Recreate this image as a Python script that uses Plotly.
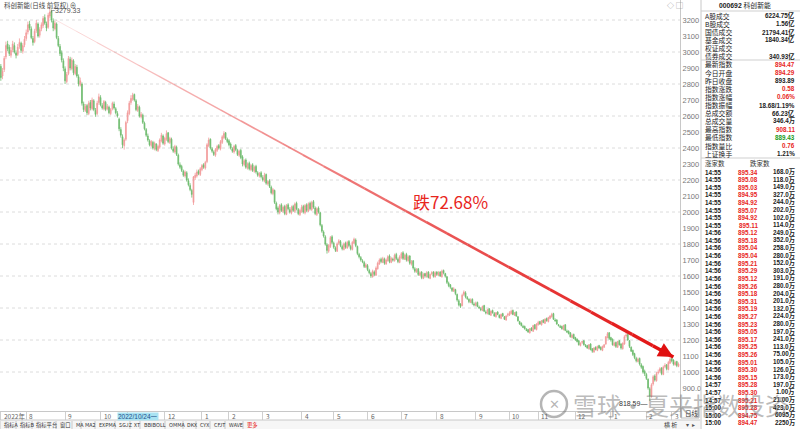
import plotly.graph_objects as go

# ---------------- data ----------------
title = "科创新能(日线 前复权)"

open_ = [
    2910, 2850, 2890, 2970, 3050, 3030, 2980, 3015, 3040, 2995, 2985, 3035, 3055, 3005, 3045,
    3085, 3125, 3175, 3145, 3085, 3065, 3135, 3175, 3105, 3145, 3165, 3215, 3175, 3155, 3225, 3255, 3195, 3145, 3175, 3085, 3035, 2995, 2945,
    2895, 2815, 2865, 2955, 2895, 2945, 2865, 2905, 2845, 2795, 2800, 2675, 2635, 2665, 2615, 2685, 2645, 2695, 2635, 2615, 2685,
    2715, 2665, 2645, 2685, 2645, 2655, 2615, 2645, 2675, 2645, 2615, 2580, 2515, 2470, 2415, 2455,
    2570, 2615, 2685, 2705, 2735, 2695, 2635, 2655, 2595, 2605, 2555, 2515, 2475, 2445, 2415, 2435, 2395, 2425, 2385, 2405, 2445, 2475,
    2425, 2455, 2495, 2435, 2455, 2395, 2375, 2405, 2355, 2295, 2285, 2255, 2225, 2245, 2195, 2165, 2135, 2060, 2215, 2225, 2255, 2235,
    2265, 2295, 2275, 2315, 2415, 2455, 2395, 2375, 2355, 2385, 2415, 2395, 2435, 2465, 2495, 2455,
    2445, 2425, 2395, 2375, 2415, 2385, 2355, 2385, 2345, 2295, 2325, 2275, 2305, 2265, 2295, 2255, 2285, 2245, 2225, 2245,
    2215, 2195, 2235, 2175, 2195, 2155, 2115, 2135, 2055, 2025, 1995, 2045, 2005, 2035, 1985, 2045, 2015, 1995, 2035, 2005, 2055, 2015, 1985,
    2005, 2035, 1995, 2045, 2005, 2055, 2015, 2065, 2025, 1985, 2025, 1995, 1915, 1875, 1845, 1795, 1755, 1785, 1845,
    1805, 1775, 1755, 1805, 1815, 1785, 1765, 1805, 1775, 1815, 1785, 1765, 1805, 1825, 1785, 1735, 1715, 1695, 1685, 1655,
    1665, 1635, 1615, 1595, 1625, 1605, 1645, 1675, 1705, 1685, 1705, 1675, 1695, 1725, 1685, 1705, 1695, 1735, 1705, 1685,
    1715, 1745, 1705, 1735, 1695, 1725, 1675, 1695, 1645, 1625, 1645, 1605, 1625, 1585, 1615, 1595, 1625, 1585, 1615, 1625, 1595,
    1625, 1605, 1625, 1595, 1635, 1615, 1595, 1555, 1545, 1525, 1505, 1515, 1485, 1445, 1425, 1415, 1485, 1495, 1465, 1455, 1435, 1455, 1425,
    1415, 1435, 1405, 1395, 1385, 1415, 1375, 1365, 1395, 1355, 1385, 1365, 1345, 1375, 1355, 1335, 1365, 1345, 1325, 1355,
    1355, 1365, 1385, 1355, 1375, 1345, 1315, 1305, 1285, 1285, 1265, 1265, 1245, 1275, 1255, 1295, 1265,
    1295, 1315, 1295, 1325, 1305, 1335, 1315, 1335, 1345, 1365, 1325, 1325, 1295, 1285, 1285, 1265, 1295, 1255, 1255, 1245, 1215, 1235,
    1215, 1205, 1195, 1165, 1185, 1195, 1165, 1165, 1145, 1175, 1145, 1125, 1155, 1135, 1165, 1155, 1135, 1155, 1175, 1215, 1245,
    1215, 1205, 1165, 1185, 1155, 1195, 1175, 1145, 1175, 1225, 1235, 1195, 1155, 1135, 1115, 1085, 1065, 1085, 1045, 1035, 1005,
    985, 955, 895, 845, 925, 975, 945, 995, 1005, 1025, 985, 1035, 1045, 1015, 1055,
    1085, 1075, 1045, 1065, 1035,
]
high = [
    2925, 2900, 2975, 3065, 3070, 3045, 3030, 3070, 3060, 3010, 3050, 3085, 3065, 3055, 3100,
    3140, 3190, 3195, 3160, 3100, 3145, 3200, 3185, 3155, 3185, 3225, 3235, 3190, 3245, 3279.33, 3265, 3210, 3195, 3185, 3100, 3050, 3010, 2960,
    2910, 2875, 2975, 2970, 2965, 2955, 2925, 2920, 2860, 2840, 2810, 2690, 2675, 2675, 2695, 2700, 2715, 2705, 2650, 2695, 2740,
    2730, 2680, 2700, 2695, 2675, 2665, 2650, 2690, 2690, 2655, 2630, 2590, 2530, 2485, 2460, 2570,
    2635, 2695, 2730, 2745, 2740, 2705, 2675, 2665, 2625, 2615, 2565, 2525, 2490, 2455, 2450, 2445, 2440, 2430, 2420, 2460, 2495, 2485,
    2470, 2510, 2500, 2470, 2465, 2410, 2420, 2415, 2365, 2310, 2295, 2265, 2260, 2255, 2210, 2180, 2145, 2225, 2245, 2265, 2265, 2280,
    2300, 2305, 2320, 2430, 2465, 2460, 2405, 2385, 2400, 2420, 2425, 2450, 2480, 2505, 2500, 2465,
    2455, 2435, 2405, 2420, 2425, 2395, 2390, 2395, 2355, 2330, 2335, 2310, 2315, 2300, 2305, 2290, 2295, 2255, 2250, 2255,
    2230, 2245, 2240, 2200, 2205, 2165, 2150, 2140, 2065, 2035, 2050, 2055, 2040, 2045, 2050, 2055, 2030, 2040, 2045, 2060, 2065, 2025, 2020,
    2045, 2045, 2050, 2055, 2060, 2065, 2070, 2075, 2035, 2030, 2035, 2000, 1925, 1885, 1855, 1805, 1800, 1850, 1855,
    1815, 1785, 1810, 1830, 1825, 1795, 1810, 1815, 1820, 1825, 1795, 1820, 1840, 1835, 1790, 1745, 1725, 1705, 1695, 1680,
    1675, 1645, 1625, 1640, 1635, 1660, 1690, 1710, 1715, 1720, 1715, 1710, 1730, 1735, 1720, 1715, 1740, 1745, 1715, 1730,
    1750, 1755, 1740, 1745, 1730, 1730, 1700, 1700, 1655, 1650, 1650, 1630, 1630, 1620, 1620, 1630, 1630, 1615, 1630, 1630, 1630,
    1630, 1630, 1630, 1640, 1640, 1620, 1600, 1565, 1550, 1530, 1530, 1520, 1490, 1455, 1430, 1490, 1510, 1505, 1475, 1460, 1460, 1460, 1435,
    1440, 1440, 1415, 1405, 1415, 1420, 1385, 1395, 1400, 1385, 1390, 1375, 1375, 1380, 1360, 1365, 1370, 1350, 1355, 1370,
    1380, 1390, 1390, 1375, 1380, 1350, 1320, 1310, 1295, 1290, 1275, 1270, 1275, 1280, 1295, 1300, 1305,
    1320, 1320, 1325, 1330, 1335, 1340, 1345, 1355, 1370, 1370, 1335, 1330, 1300, 1295, 1290, 1295, 1300, 1265, 1260, 1250, 1240, 1240,
    1220, 1210, 1200, 1185, 1195, 1200, 1175, 1170, 1175, 1180, 1150, 1155, 1160, 1165, 1170, 1160, 1165, 1175, 1225, 1250, 1250,
    1220, 1210, 1190, 1190, 1195, 1200, 1180, 1185, 1230, 1245, 1240, 1200, 1160, 1140, 1120, 1095, 1090, 1090, 1055, 1040, 1015,
    995, 960, 905, 930, 980, 985, 1000, 1015, 1030, 1030, 1040, 1055, 1050, 1070, 1095,
    1095, 1080, 1070, 1070, 1060,
]
low = [
    2820, 2830, 2875, 2955, 3005, 2975, 2965, 3000, 2990, 2960, 2975, 3020, 2995, 2990, 3030,
    3070, 3110, 3135, 3080, 3040, 3055, 3120, 3090, 3090, 3130, 3150, 3170, 3130, 3145, 3210, 3185, 3130, 3135, 3080, 3030, 2975, 2935, 2880,
    2800, 2805, 2855, 2885, 2885, 2855, 2855, 2840, 2785, 2785, 2665, 2625, 2625, 2605, 2605, 2635, 2635, 2630, 2595, 2605, 2670,
    2660, 2640, 2635, 2630, 2635, 2610, 2605, 2635, 2640, 2610, 2590, 2505, 2465, 2400, 2390, 2445,
    2555, 2605, 2670, 2695, 2690, 2630, 2625, 2590, 2585, 2550, 2510, 2470, 2440, 2410, 2405, 2390, 2385, 2380, 2375, 2395, 2435, 2420,
    2415, 2445, 2430, 2425, 2390, 2370, 2365, 2350, 2290, 2270, 2250, 2220, 2215, 2190, 2160, 2130, 2090, 2044, 2200, 2215, 2230, 2225,
    2255, 2270, 2265, 2305, 2405, 2390, 2370, 2350, 2345, 2375, 2390, 2385, 2425, 2455, 2450, 2430,
    2410, 2390, 2370, 2365, 2380, 2350, 2345, 2330, 2285, 2285, 2270, 2265, 2260, 2255, 2250, 2245, 2240, 2220, 2215, 2210,
    2190, 2185, 2170, 2165, 2150, 2110, 2105, 2050, 2010, 1985, 1985, 2000, 1995, 1980, 1980, 2010, 1990, 1985, 2000, 1995, 2010, 1980, 1975,
    1995, 1990, 1985, 2000, 2000, 2010, 2005, 2020, 1980, 1975, 1990, 1910, 1870, 1840, 1790, 1740, 1745, 1775, 1800,
    1770, 1750, 1750, 1795, 1780, 1760, 1760, 1770, 1770, 1780, 1760, 1760, 1800, 1780, 1730, 1710, 1690, 1680, 1650, 1650,
    1630, 1610, 1588, 1590, 1600, 1600, 1640, 1670, 1680, 1680, 1670, 1670, 1690, 1680, 1680, 1690, 1690, 1700, 1680, 1680,
    1705, 1700, 1700, 1690, 1690, 1670, 1665, 1640, 1620, 1620, 1600, 1600, 1580, 1580, 1590, 1590, 1585, 1580, 1605, 1590, 1590,
    1600, 1600, 1595, 1590, 1610, 1590, 1550, 1530, 1520, 1500, 1500, 1480, 1440, 1410, 1400, 1410, 1475, 1460, 1450, 1430, 1430, 1420, 1410,
    1410, 1405, 1395, 1380, 1380, 1375, 1360, 1360, 1355, 1350, 1365, 1345, 1340, 1355, 1335, 1330, 1345, 1325, 1320, 1345,
    1350, 1360, 1355, 1350, 1345, 1315, 1295, 1285, 1275, 1265, 1255, 1245, 1240, 1255, 1250, 1265, 1260,
    1290, 1295, 1290, 1305, 1300, 1315, 1310, 1330, 1340, 1325, 1315, 1295, 1285, 1275, 1265, 1260, 1255, 1245, 1235, 1215, 1210, 1205,
    1195, 1185, 1165, 1160, 1175, 1165, 1155, 1145, 1140, 1135, 1120, 1120, 1135, 1130, 1145, 1135, 1130, 1150, 1170, 1210, 1200,
    1190, 1165, 1160, 1150, 1150, 1165, 1140, 1140, 1170, 1215, 1195, 1150, 1125, 1100, 1080, 1060, 1060, 1040, 1020, 990, 975,
    950, 890, 818.59, 840, 915, 940, 940, 985, 995, 980, 980, 1025, 1010, 1010, 1050,
    1060, 1040, 1040, 1030, 1030,
]
close = [
    2840, 2880, 2960, 3040, 3020, 2990, 3010, 3050, 3000, 2980, 3030, 3060, 3010, 3040, 3080,
    3120, 3170, 3150, 3090, 3060, 3130, 3180, 3100, 3140, 3170, 3210, 3180, 3150, 3230, 3250, 3200, 3150, 3180, 3090, 3040, 2990, 2950, 2900,
    2820, 2860, 2960, 2900, 2950, 2870, 2910, 2850, 2800, 2820, 2680, 2640, 2660, 2620, 2680, 2650, 2700, 2640, 2610, 2680, 2720,
    2670, 2650, 2690, 2640, 2660, 2620, 2640, 2680, 2650, 2620, 2600, 2520, 2480, 2420, 2450, 2560,
    2620, 2680, 2710, 2730, 2700, 2640, 2660, 2600, 2610, 2560, 2520, 2480, 2450, 2420, 2440, 2400, 2430, 2390, 2410, 2450, 2480, 2430,
    2460, 2490, 2440, 2460, 2400, 2380, 2410, 2360, 2300, 2280, 2260, 2230, 2250, 2200, 2170, 2140, 2110, 2220, 2230, 2250, 2240, 2270,
    2290, 2280, 2310, 2420, 2450, 2400, 2380, 2360, 2390, 2410, 2400, 2440, 2470, 2490, 2460, 2440,
    2420, 2400, 2380, 2410, 2390, 2360, 2380, 2340, 2300, 2320, 2280, 2300, 2270, 2290, 2260, 2280, 2250, 2230, 2240, 2220,
    2200, 2230, 2180, 2190, 2160, 2120, 2140, 2060, 2020, 2000, 2040, 2010, 2030, 1990, 2040, 2020, 2000, 2030, 2010, 2050, 2020, 1990, 2010,
    2030, 2000, 2040, 2010, 2050, 2020, 2060, 2030, 1990, 2020, 2000, 1920, 1880, 1850, 1800, 1760, 1790, 1840, 1810,
    1780, 1760, 1800, 1820, 1790, 1770, 1800, 1780, 1810, 1790, 1770, 1810, 1830, 1790, 1740, 1720, 1700, 1690, 1660, 1670,
    1640, 1620, 1600, 1630, 1610, 1650, 1680, 1700, 1690, 1710, 1680, 1700, 1720, 1690, 1710, 1700, 1730, 1710, 1690, 1720,
    1740, 1710, 1730, 1700, 1720, 1680, 1690, 1650, 1630, 1640, 1610, 1620, 1590, 1610, 1600, 1620, 1590, 1610, 1620, 1600, 1620,
    1610, 1620, 1600, 1630, 1620, 1600, 1560, 1540, 1530, 1510, 1520, 1490, 1450, 1420, 1410, 1480, 1500, 1470, 1460, 1440, 1450, 1430, 1420,
    1430, 1410, 1400, 1390, 1410, 1380, 1370, 1390, 1360, 1380, 1370, 1350, 1370, 1360, 1340, 1360, 1350, 1330, 1350, 1360,
    1370, 1380, 1360, 1370, 1350, 1320, 1300, 1290, 1280, 1270, 1260, 1250, 1270, 1260, 1290, 1270, 1300,
    1310, 1300, 1320, 1310, 1330, 1320, 1340, 1350, 1360, 1330, 1320, 1300, 1290, 1280, 1270, 1290, 1260, 1250, 1240, 1220, 1230, 1210,
    1200, 1190, 1170, 1180, 1190, 1170, 1160, 1150, 1170, 1140, 1130, 1150, 1140, 1160, 1150, 1140, 1160, 1170, 1220, 1240, 1210,
    1200, 1170, 1180, 1160, 1190, 1170, 1150, 1180, 1220, 1230, 1200, 1160, 1130, 1110, 1090, 1070, 1080, 1050, 1030, 1000, 990,
    960, 900, 850, 920, 970, 950, 990, 1000, 1020, 990, 1030, 1040, 1020, 1060, 1080,
    1070, 1050, 1060, 1040, 1050,
]

peak_label = "3279.33"
low_label = "818.59"
drop_text = "跌72.68%"

month_pos = [0, 15, 38, 59, 75, 97, 119, 135, 155, 178, 197, 217, 237, 258, 281, 301, 318, 340, 361, 382, 397]
month_lbl = ["2022年", "8", "9", "10", "11", "12", "1", "2", "3", "4", "5", "6", "7", "8", "9", "10", "11", "12", "1", "2", "3"]
cursor_pos = 69
cursor_lbl = "2022/10/24一"

y_tick_vals = [900, 1000, 1100, 1200, 1300, 1400, 1500, 1600, 1700, 1800, 1900, 2000, 2100,
               2200, 2300, 2400, 2500, 2600, 2700, 2800, 2900, 3000, 3100, 3200]
y_tick_text = ["900.0", "1000", "1100", "1200", "1300", "1400", "1500", "1600", "1700", "1800", "1900", "2000", "2100",
               "2200", "2300", "2400", "2500", "2600", "2700", "2800", "2900", "3000", "3100", "3200"]
grid_vals = [1000, 1200, 1400, 1600, 1800, 2000, 2200, 2400, 2600, 2800, 3000, 3200]

arrow_from = (32.5, 3200)
arrow_to = (398, 1094)

panel_title = ("000692", "科创新能")
panel1_labels = ["A股成交", "B股成交", "国债成交", "基金成交", "权证成交", "债券成交"]
panel1_values = ["6224.75亿", "1.56亿", "21794.41亿", "1840.34亿", "", "340.93亿"]
panel2_labels = ["最新指数", "今日开盘", "昨日收盘", "指数涨跌", "指数涨幅", "指数振幅",
                 "总成交额", "总成交量", "最高指数", "最低指数", "指数量比", "上证换手"]
panel2_values = ["894.47", "894.29", "893.89", "0.58", "0.06%", "18.68/1.19%",
                 "66.23亿", "346.4万", "908.11", "889.43", "0.76", "1.21%"]
panel2_kind = ["up", "up", "flat", "up", "up", "flat", "flat", "flat", "up", "down", "up", "flat"]
tick_header = ("涨家数", "跌家数")
tick_time = ["14:55"] * 8 + ["14:56"] * 20 + ["14:57", "14:57", "14:57", "15:00", "15:00", "15:00"]
tick_price = ["895.34", "895.08", "895.03", "894.95", "894.92", "895.07", "894.92", "895.11",
              "895.12", "895.18", "895.04", "895.04", "895.21", "895.29", "895.12", "895.26",
              "895.18", "895.31", "895.19", "895.27", "895.23", "895.05", "895.17", "895.25",
              "895.26", "895.01", "895.30", "895.15", "895.28", "895.30", "895.21", "895.28",
              "894.75", "894.47"]
tick_vol = ["168.0万", "118.0万", "149.0万", "327.0万", "244.0万", "202.0万", "102.0万", "114.0万",
            "249.0万", "352.0万", "258.0万", "280.0万", "152.0万", "303.0万", "191.0万", "280.0万",
            "204.0万", "201.0万", "132.0万", "224.0万", "280.0万", "197.0万", "241.0万", "113.0万",
            "75.00万", "105.0万", "126.0万", "173.0万", "197.0万", "1.00万", "21.00万", "423.0万",
            "6095万", "2250万"]
toolbar_items = ["指标A", "指标B", "指标平台", "窗口", "MA", "MA2", "EXPMA", "SGJZ", "XT",
                 "BBIBOLL", "OMMA", "DKX", "CYX", "CFJT", "WAVE", "更多"]
toolbar_x = [2, 18, 34, 58, 74, 83, 97, 117, 132, 142, 167, 185, 198, 212, 227, 245]
watermark = "雪球·夏来指数投资"

# ---------------- styling ----------------
W, H = 800, 429
PLOT_R, PLOT_B = 680, 411
UP, DN = "#f29a9a", "#6dbb6d"
RED, GREEN, DARK = "#e8261d", "#1a9a1a", "#222222"
FONT = "Liberation Sans, Noto Sans CJK SC, sans-serif"
CJK = "Noto Sans CJK SC, sans-serif"

def fx(p):
    return p / W

def fy(p):
    return 1 - p / H

idx = list(range(len(close)))

fig = go.Figure()
fig.add_trace(go.Candlestick(
    x=idx, open=open_, high=high, low=low, close=close,
    increasing=dict(line=dict(color=UP, width=0.8), fillcolor=UP),
    decreasing=dict(line=dict(color=DN, width=0.8), fillcolor=DN),
    whiskerwidth=0, hoverinfo="skip", showlegend=False,
))

# gradient arrow line (peak -> latest)
nseg = 30
x0, y0 = arrow_from
x1, y1 = arrow_to
for k in range(nseg):
    t0, t1 = k / nseg, (k + 1) / nseg
    a = 0.10 + 0.90 * (t1 ** 0.9)
    w = 0.8 + 2.6 * t1
    fig.add_trace(go.Scatter(
        x=[x0 + (x1 - x0) * t0, x0 + (x1 - x0) * t1],
        y=[y0 + (y1 - y0) * t0, y0 + (y1 - y0) * t1],
        mode="lines", line=dict(color=f"rgba(226,18,18,{a:.3f})", width=w),
        hoverinfo="skip", showlegend=False,
    ))

ann = []
shapes = []

# arrow head
ann.append(dict(x=x1, y=y1, ax=x0 + (x1 - x0) * 0.975, ay=y0 + (y1 - y0) * 0.975,
                xref="x", yref="y", axref="x", ayref="y", text="", showarrow=True,
                arrowhead=2, arrowsize=1.0, arrowwidth=3, arrowcolor="#e01010"))

# grid lines
for g in grid_vals:
    shapes.append(dict(type="line", xref="x domain", yref="y", x0=0, x1=1, y0=g, y1=g,
                       line=dict(color="#dcdcdc", width=1, dash="dot"), layer="below"))

# peak / low labels
pk = high.index(max(high))
lo = low.index(min(low))
ann.append(dict(x=pk, y=max(high), xref="x", yref="y", text="⌐" + peak_label, showarrow=False,
                xanchor="left", yanchor="middle", xshift=-1, yshift=-3,
                font=dict(size=7, color="#555", family=FONT)))
ann.append(dict(x=lo, y=min(low), xref="x", yref="y", text=low_label + "—", showarrow=False,
                xanchor="right", yanchor="middle", xshift=-1, yshift=-2,
                font=dict(size=7, color="#333", family=FONT)))

def text(xp, yp, s, size=8, color=DARK, anchor="left", family=FONT, bg=None, **kw):
    d = dict(x=fx(xp), y=fy(yp), xref="paper", yref="paper", text=s, showarrow=False,
             xanchor=anchor, yanchor="middle", font=dict(size=size, color=color, family=family))
    if bg:
        d["bgcolor"] = bg
    d.update(kw)
    ann.append(d)

# big drop text
text(411, 201, drop_text, size=17, color=RED, family=CJK)

# title and top icons
text(2, 5, title + " ⊕", size=6.5, color="#444", family=CJK)
text(665, 5, "◇ ▢", size=7, color="#888")

# date axis labels
for p, l in zip(month_pos, month_lbl):
    ann.append(dict(x=p, y=fy(416), xref="x", yref="paper", text=l, showarrow=False,
                    xanchor="left", yanchor="middle", xshift=1,
                    font=dict(size=6.5, color="#666", family=CJK)))
ann.append(dict(x=cursor_pos, y=fy(416), xref="x", yref="paper", text=cursor_lbl, showarrow=False,
                xanchor="left", yanchor="middle", bgcolor="#a9e3f2", borderpad=0,
                font=dict(size=6.5, color="#1c4f8c", family=FONT)))

# bottom strip: toolbar
shapes.append(dict(type="rect", xref="paper", yref="paper", x0=0, x1=fx(700), y0=fy(420), y1=0,
                   fillcolor="#f6f6f6", line=dict(width=0), layer="below"))
shapes.append(dict(type="line", xref="paper", yref="paper", x0=0, x1=fx(700), y0=fy(420), y1=fy(420),
                   line=dict(color="#c8c8c8", width=1)))
for tx, it in zip(toolbar_x, toolbar_items):
    text(tx, 424.5, it, size=5.3, color=(RED if it == "更多" else "#333"), family=CJK)
    shapes.append(dict(type="line", xref="paper", yref="paper", x0=fx(tx - 2), x1=fx(tx - 2),
                       y0=fy(421), y1=fy(429), line=dict(color="#c8c8c8", width=1)))

# bottom right controls
text(683, 413, "日线", size=6.5, color="#333", family=CJK)
shapes.append(dict(type="rect", xref="paper", yref="paper", x0=fx(681), x1=fx(699), y0=fy(418), y1=fy(408),
                   line=dict(color="#bbb", width=1)))
text(662, 424.5, "横 析", size=6, color="#333", family=CJK)
text(684, 424.5, "▾  ▸", size=6, color="#555")

# right panel
shapes.append(dict(type="line", xref="paper", yref="paper", x0=fx(701), x1=fx(701), y0=0, y1=1,
                   line=dict(color="#c8c8c8", width=1)))
for yy in (11, 60, 158):
    shapes.append(dict(type="line", xref="paper", yref="paper", x0=fx(701), x1=1, y0=fy(yy), y1=fy(yy),
                       line=dict(color="#cfcfcf", width=1)))
text(717, 5.5, "<b>" + panel_title[0] + "</b> " + panel_title[1], size=6.8, color="#222", family=FONT)

for k, (lb, v) in enumerate(zip(panel1_labels, panel1_values)):
    yy = 16 + 8 * k
    text(703, yy, lb, size=6.8, color="#222", family=CJK)
    if v:
        text(797, yy, "<b>" + v + "</b>", size=6.3, color="#222", anchor="right", family=FONT)

kind_col = {"up": RED, "down": GREEN, "flat": "#222"}
for k, (lb, v, kd) in enumerate(zip(panel2_labels, panel2_values, panel2_kind)):
    yy = 64.5 + 8.1 * k
    text(703, yy, lb, size=6.8, color="#222", family=CJK)
    text(797, yy, "<b>" + v + "</b>", size=6.3, color=kind_col[kd], anchor="right", family=FONT)

text(703, 163, tick_header[0], size=6.5, color="#333", family=CJK)
text(748, 163, tick_header[1], size=6.5, color="#333", family=CJK)
for k, (tt, pp, vv) in enumerate(zip(tick_time, tick_price, tick_vol)):
    yy = 172 + 7.6 * k
    text(703, yy, "<b>" + tt + "</b>", size=6.3, color="#222", family=FONT)
    text(748, yy, "<b>" + pp + "</b>", size=6.3, color=RED, anchor="center", family=FONT)
    text(797, yy, "<b>" + vv + "</b>", size=6.3, color="#222", anchor="right", family=FONT)

# watermark
shapes.append(dict(type="circle", xref="paper", yref="paper", x0=fx(541), x1=fx(567), y0=fy(417), y1=fy(391),
                   line=dict(color="rgba(120,120,120,0.55)", width=2.5)))
text(554, 404, "✕", size=13, color="rgba(120,120,120,0.55)", anchor="center")
text(571, 404, watermark, size=24, color="rgba(120,120,120,0.5)", family=CJK)

fig.update_layout(
    width=W, height=H,
    margin=dict(l=0, r=0, t=0, b=0),
    paper_bgcolor="white", plot_bgcolor="white",
    xaxis=dict(domain=[0, PLOT_R / W], range=[-0.5, 401.9], rangeslider=dict(visible=False),
               showgrid=False, zeroline=False, showline=True, linecolor="#c8c8c8",
               tickvals=month_pos, ticktext=[""] * len(month_pos), ticks="outside",
               ticklen=8, tickcolor="#cfcfcf", fixedrange=True),
    yaxis=dict(domain=[1 - PLOT_B / H, 1], range=[756.25, 3325], side="right",
               showgrid=False, zeroline=False, showline=True, linecolor="#c8c8c8",
               tickvals=y_tick_vals, ticktext=y_tick_text, ticks="",
               tickfont=dict(size=7.5, color="#777", family=FONT), fixedrange=True),
    annotations=ann, shapes=shapes, showlegend=False,
)

fig.write_html("out.html", config={"displayModeBar": False, "staticPlot": True},
               post_script="document.body.style.margin='0';document.body.style.overflow='hidden';")
